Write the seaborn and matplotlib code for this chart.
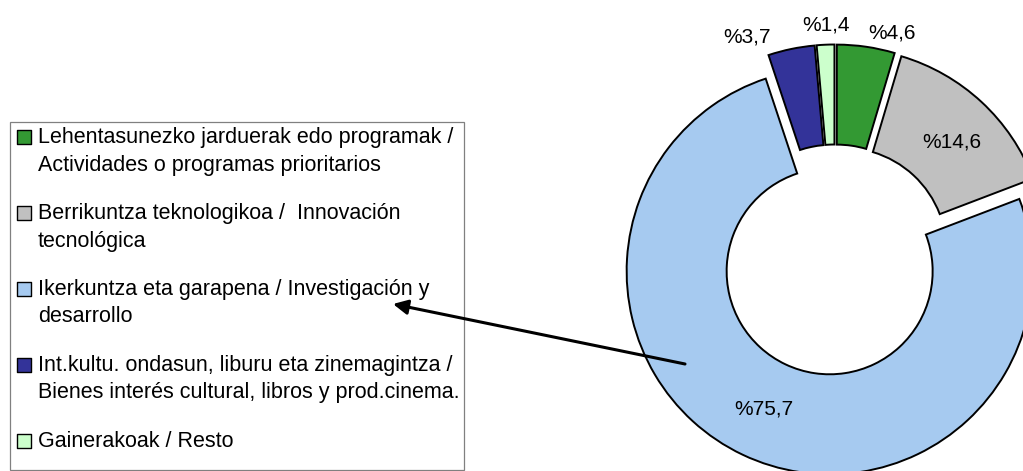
"""
Doughnut chart — share of programmes (%), exploded ring with side legend
Run: python plot.py
"""
import matplotlib
matplotlib.use('Agg')
import matplotlib.pyplot as plt
from matplotlib.patches import Rectangle
import seaborn as sns

# ── Data ─────────────────────────────────────────────────────────────────────
shares = [4.6, 14.6, 75.7, 3.7, 1.4]
value_labels = ['%4,6', '%14,6', '%75,7', '%3,7', '%1,4']
legend_lines = [
    ['Lehentasunezko jarduerak edo programak /', 'Actividades o programas prioritarios'],
    ['Berrikuntza teknologikoa /  Innovación', 'tecnológica'],
    ['Ikerkuntza eta garapena / Investigación y', 'desarrollo'],
    ['Int.kultu. ondasun, liburu eta zinemagintza /', 'Bienes interés cultural, libros y prod.cinema.'],
    ['Gainerakoak / Resto'],
]
colors = ['#339933', '#C0C0C0', '#A6CAF0', '#333399', '#CCFFCC']

# ── Layout (pixel space, y measured from top of image) ──────────────────────
W, H = 1023, 471
center = (835, H - 260)
radius, ring = 203, 100
explode_px = 12.5
label_pos = [(892, 33), (952, 142), (764, 409), (747, 37), (826, 25)]

sns.set_theme(style='white')
plt.rcParams['font.family'] = ['Liberation Sans', 'DejaVu Sans']

fig = plt.figure(figsize=(W / 100, H / 100), dpi=100)
ax = fig.add_axes([0, 0, 1, 1])

ax.pie(shares, colors=sns.color_palette(colors), startangle=90, counterclock=False,
       center=center, radius=radius, explode=[explode_px] * len(shares),
       wedgeprops=dict(width=ring, edgecolor='black', linewidth=1.4))

for txt, (x, y) in zip(value_labels, label_pos):
    ax.text(x, H - y, txt, ha='center', va='center', fontsize=15, color='black')

# ── Legend box drawn by hand (marker sits next to first line) ───────────────
ax.add_patch(Rectangle((9.5, H - 470), 454.5, 470 - 121.5, fill=False,
                       edgecolor='#808080', linewidth=0.9, zorder=3))
for i, (lines, col) in enumerate(zip(legend_lines, colors)):
    base = 143 + i * 75.9
    ax.scatter([23.5], [H - (base - 6)], marker='s', s=90, color=col,
               edgecolors='black', linewidths=1.0, zorder=4)
    for j, line in enumerate(lines):
        ax.text(38, H - (base + j * 27.7), line, ha='left', va='baseline',
                fontsize=15.5, color='black')

# ── Arrow from ring to its legend entry ─────────────────────────────────────
ax.annotate('', xy=(393, H - 304), xytext=(685, H - 364),
            arrowprops=dict(arrowstyle='-|>', color='black', lw=2.2,
                            mutation_scale=22, shrinkA=0, shrinkB=0), zorder=5)

ax.set_xlim(0, W)
ax.set_ylim(0, H)
ax.set_aspect('equal')
ax.axis('off')

plt.savefig('out.png', dpi=100)
